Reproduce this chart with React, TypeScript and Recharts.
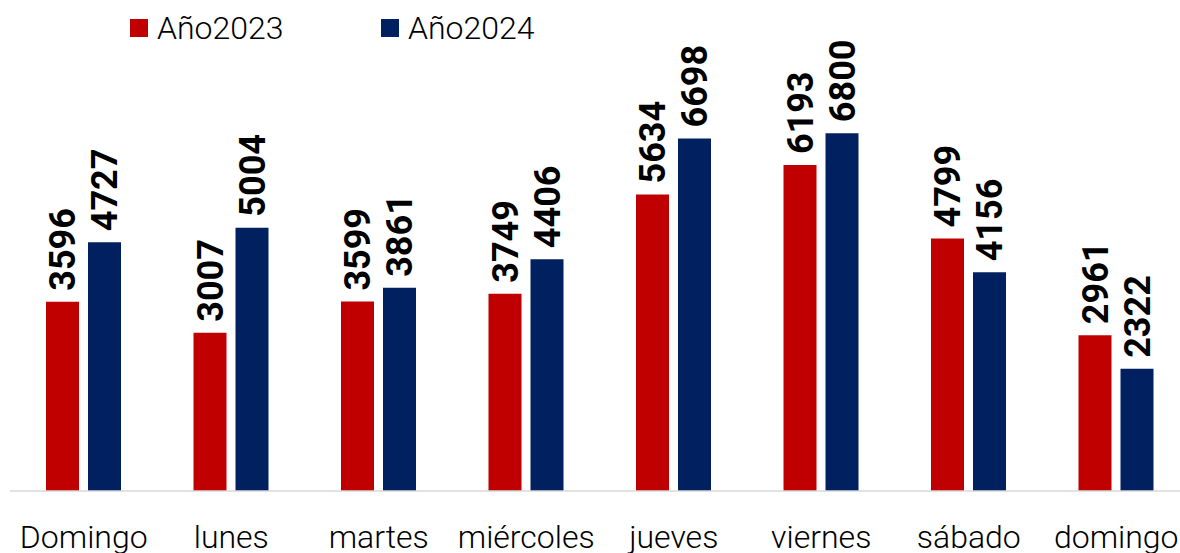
import React from "react";
import { BarChart, Bar, XAxis, YAxis, LabelList } from "recharts";

const days = ["Domingo", "lunes", "martes", "miércoles", "jueves", "viernes", "sábado", "domingo"];
const values2023 = [3596, 3007, 3599, 3749, 5634, 6193, 4799, 2961];
const values2024 = [4727, 5004, 3861, 4406, 6698, 6800, 4156, 2322];
const seriesNames = ["Año2023", "Año2024"];
const seriesColors = ["#C00000", "#002060"];

const data = days.map((d, i) => ({ day: d, a2023: values2023[i], a2024: values2024[i] }));

const FONT = "Roboto, 'DejaVu Sans', sans-serif";

const ValueLabel = (props: any) => {
  const { x, y, width, value } = props;
  const cx = x + width / 2;
  const y0 = y - 11;
  return (
    <g transform={`rotate(-90 ${cx} ${y0})`}>
      <text
        x={cx}
        y={y0 + 13}
        textAnchor="start"
        fontFamily={FONT}
        fontWeight={700}
        fontSize={36}
        fill="#000000"
      >
        {value}
      </text>
    </g>
  );
};

const Tick = (props: any) => {
  const { x, payload } = props;
  return (
    <text
      x={x}
      y={548}
      textAnchor="middle"
      fontFamily={FONT}
      fontWeight={300}
      fontSize={32}
      fill="#000000"
    >
      {payload.value}
    </text>
  );
};

const LegendOverlay = () => {
  const lefts = [130, 381];
  return (
    <div style={{ position: "absolute", left: 0, top: 0, width: 1180, height: 60 }}>
      {seriesNames.map((n, i) => (
        <React.Fragment key={n}>
          <div
            style={{
              position: "absolute",
              left: lefts[i],
              top: 19,
              width: 18,
              height: 18,
              background: seriesColors[i],
            }}
          />
          <div
            style={{
              position: "absolute",
              left: lefts[i] + 27,
              top: 12,
              fontFamily: FONT,
              fontWeight: 300,
              fontSize: 32,
              lineHeight: "32px",
              color: "#000000",
              whiteSpace: "nowrap",
            }}
          >
            {n}
          </div>
        </React.Fragment>
      ))}
    </div>
  );
};

export default function App() {
  return (
    <div
      style={{
        position: "fixed",
        left: 0,
        top: 0,
        width: 1180,
        height: 553,
        overflow: "hidden",
        background: "#ffffff",
      }}
    >
      <BarChart
        width={1190}
        height={553}
        data={data}
        margin={{ top: 70, right: 0, left: 10, bottom: 0 }}
        barGap={9}
      >
        <XAxis
          dataKey="day"
          height={62}
          axisLine={{ stroke: "#D9D9D9", strokeWidth: 1.5 }}
          tickLine={false}
          tick={<Tick />}
          interval={0}
        />
        <YAxis hide domain={[0, 8000]} />
        <Bar dataKey="a2023" name={seriesNames[0]} fill={seriesColors[0]} barSize={33} isAnimationActive={false}>
          <LabelList dataKey="a2023" content={<ValueLabel />} />
        </Bar>
        <Bar dataKey="a2024" name={seriesNames[1]} fill={seriesColors[1]} barSize={33} isAnimationActive={false}>
          <LabelList dataKey="a2024" content={<ValueLabel />} />
        </Bar>
      </BarChart>
      <LegendOverlay />
    </div>
  );
}
